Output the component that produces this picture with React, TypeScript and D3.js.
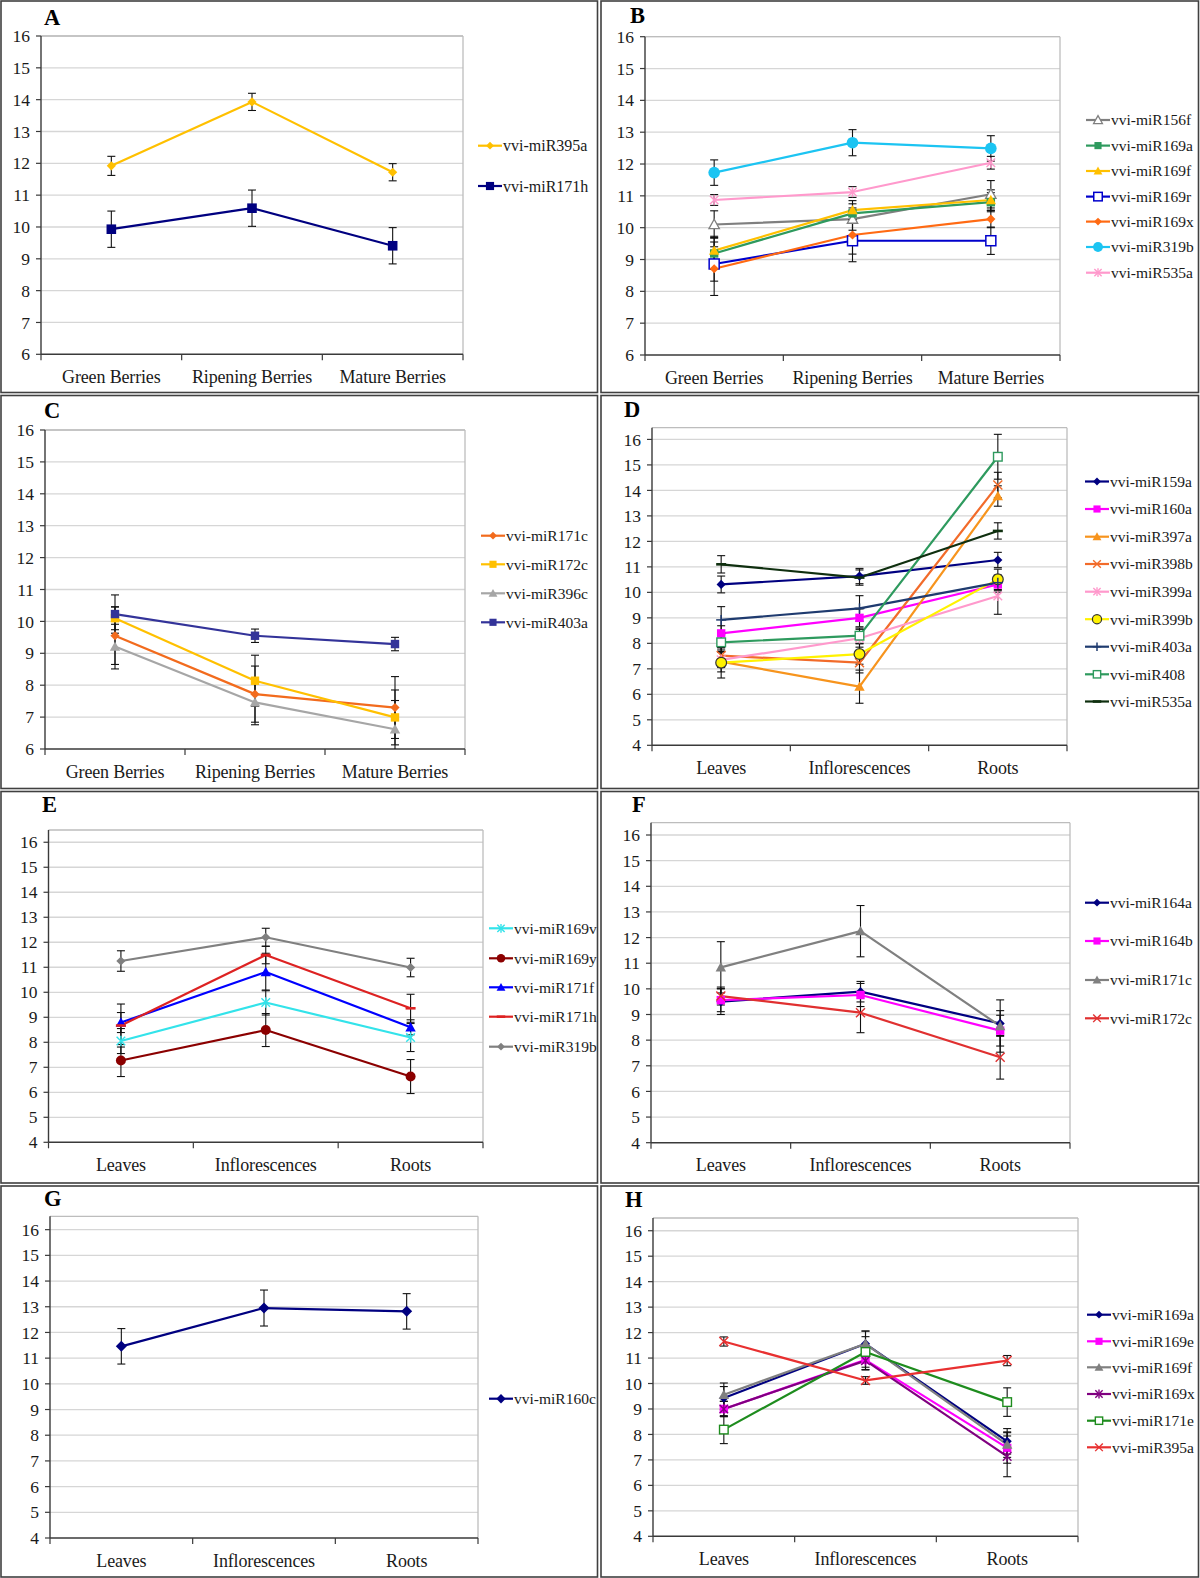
import React from "react";
import * as d3 from "d3";

// ---------- categories & ticks ----------
const berryStages = ["Green Berries", "Ripening Berries", "Mature Berries"];
const tissues = ["Leaves", "Inflorescences", "Roots"];
const berryTicks = [6, 7, 8, 9, 10, 11, 12, 13, 14, 15, 16];
const tissueTicks = [4, 5, 6, 7, 8, 9, 10, 11, 12, 13, 14, 15, 16];

// ---------- Panel A ----------
const aNames = ["vvi-miR395a", "vvi-miR171h"];
const aMeans = [[11.92, 13.93, 11.72], [9.93, 10.59, 9.41]];
const aErrors = [[0.3, 0.27, 0.27], [0.57, 0.57, 0.57]];
const aColors = ["#FFC000", "#000080"];
const aMarkers = ["diamond", "bigSquare"];

// ---------- Panel B ----------
const bNames = ["vvi-miR156f", "vvi-miR169a", "vvi-miR169f", "vvi-miR169r", "vvi-miR169x", "vvi-miR319b", "vvi-miR535a"];
const bMeans = [
  [10.1, 10.27, 11.05],
  [9.19, 10.45, 10.8],
  [9.28, 10.55, 10.87],
  [8.86, 9.59, 9.59],
  [8.71, 9.77, 10.27],
  [11.73, 12.67, 12.49],
  [10.87, 11.12, 12.04],
];
const bErrors = [
  [0.43, 0.35, 0.43],
  [0.5, 0.3, 0.3],
  [0.45, 0.3, 0.32],
  [0.54, 0.66, 0.43],
  [0.84, 0.6, 0.27],
  [0.4, 0.41, 0.4],
  [0.17, 0.17, 0.2],
];
const bColors = ["#7F7F7F", "#2E9A5E", "#FFC000", "#0000CC", "#FF6A13", "#1CC4F2", "#FF99CC"];
const bMarkers = ["openTriangle", "square", "triangle", "openSquareBig", "diamond", "circleBig", "star"];

// ---------- Panel C ----------
const cNames = ["vvi-miR171c", "vvi-miR172c", "vvi-miR396c", "vvi-miR403a"];
const cMeans = [
  [9.55, 7.72, 7.3],
  [10.1, 8.14, 6.99],
  [9.21, 7.46, 6.62],
  [10.23, 9.55, 9.29],
];
const cErrors = [
  [0.9, 0.88, 0.97],
  [0.36, 0.8, 0.86],
  [0.7, 0.7, 0.9],
  [0.6, 0.21, 0.21],
];
const cColors = ["#F26B1D", "#FFC000", "#A6A6A6", "#333399"];
const cMarkers = ["diamond", "square", "triangle", "square"];

// ---------- Panel D ----------
const dNames = ["vvi-miR159a", "vvi-miR160a", "vvi-miR397a", "vvi-miR398b", "vvi-miR399a", "vvi-miR399b", "vvi-miR403a", "vvi-miR408", "vvi-miR535a"];
const dMeans = [
  [10.31, 10.64, 11.27],
  [8.39, 9.0, 10.31],
  [7.28, 6.3, 13.78],
  [7.52, 7.24, 14.21],
  [7.35, 8.2, 9.86],
  [7.24, 7.58, 10.51],
  [8.92, 9.37, 10.38],
  [8.04, 8.3, 15.32],
  [11.1, 10.58, 12.41],
];
const dErrors = [
  [0.33, 0.3, 0.3],
  [0.3, 0.35, 0.3],
  [0.4, 0.65, 0.4],
  [0.3, 0.4, 0.5],
  [0.3, 0.35, 0.72],
  [0.6, 0.4, 0.4],
  [0.52, 0.5, 0.3],
  [0.3, 0.3, 0.88],
  [0.34, 0.3, 0.32],
];
const dColors = ["#000080", "#FF00FF", "#F7941D", "#F26B2A", "#FF99CC", "#FFF200", "#1F3B6F", "#2E9A5E", "#0F2F0F"];
const dMarkers = ["diamond", "square", "triangle", "x", "star", "circleOutline", "plus", "openSquare", "dash"];

// ---------- Panel E ----------
const eNames = ["vvi-miR169v", "vvi-miR169y", "vvi-miR171f", "vvi-miR171h", "vvi-miR319b"];
const eMeans = [
  [8.05, 9.59, 8.19],
  [7.27, 8.49, 6.63],
  [8.79, 10.81, 8.6],
  [8.67, 11.49, 9.36],
  [11.25, 12.2, 10.99],
];
const eErrors = [
  [0.5, 0.5, 0.56],
  [0.64, 0.66, 0.68],
  [0.4, 0.75, 0.3],
  [0.86, 0.35, 0.56],
  [0.41, 0.36, 0.37],
];
const eColors = ["#33E3EA", "#8B0000", "#0000FF", "#DD2222", "#808080"];
const eMarkers = ["star", "circle", "triangle", "dash", "diamond"];

// ---------- Panel F ----------
const fNames = ["vvi-miR164a", "vvi-miR164b", "vvi-miR171c", "vvi-miR172c"];
const fMeans = [
  [9.5, 9.89, 8.65],
  [9.56, 9.76, 8.37],
  [10.84, 12.25, 8.55],
  [9.72, 9.07, 7.33],
];
const fErrors = [
  [0.5, 0.4, 0.5],
  [0.45, 0.45, 0.6],
  [1.0, 1.0, 1.02],
  [0.35, 0.78, 0.85],
];
const fColors = ["#000080", "#FF00FF", "#808080", "#E03030"];
const fMarkers = ["diamond", "square", "triangle", "x"];

// ---------- Panel G ----------
const gNames = ["vvi-miR160c"];
const gMeans = [[11.46, 12.95, 12.82]];
const gErrors = [[0.69, 0.7, 0.69]];
const gColors = ["#000080"];
const gMarkers = ["diamondBig"];

// ---------- Panel H ----------
const hNames = ["vvi-miR169a", "vvi-miR169e", "vvi-miR169f", "vvi-miR169x", "vvi-miR171e", "vvi-miR395a"];
const hMeans = [
  [9.43, 11.56, 7.73],
  [9.0, 10.93, 7.47],
  [9.56, 11.56, 7.6],
  [9.0, 10.9, 7.14],
  [8.19, 11.24, 9.27],
  [11.65, 10.12, 10.9],
];
const hErrors = [
  [0.45, 0.5, 0.5],
  [0.3, 0.4, 0.6],
  [0.46, 0.5, 0.5],
  [0.3, 0.35, 0.8],
  [0.55, 0.6, 0.56],
  [0.18, 0.15, 0.2],
];
const hColors = ["#000080", "#FF00FF", "#808080", "#800080", "#1E8C1E", "#E83030"];
const hMarkers = ["diamond", "square", "triangle", "star", "openSquare", "x"];

// ---------- layout (positions, separate from data) ----------
type Layout = {
  letter: string; letterX: number; letterY: number;
  left: number; right: number; top: number; bottom: number;
  yMin: number; yMax: number;
  legendX: number; legendYs: number[]; legendFont: number;
};

const layouts: Layout[] = [
  { letter: "A", letterX: 44, letterY: 25, left: 41, right: 463, top: 36, bottom: 354.3, yMin: 6, yMax: 16, legendX: 478, legendYs: [145.7, 186], legendFont: 16 },
  { letter: "B", letterX: 630, letterY: 23, left: 645, right: 1060, top: 36.7, bottom: 355, yMin: 6, yMax: 16, legendX: 1086, legendYs: [120, 145.6, 171, 196.6, 221.6, 247, 272.7], legendFont: 15.5 },
  { letter: "C", letterX: 44, letterY: 418, left: 45, right: 465, top: 430, bottom: 749, yMin: 6, yMax: 16, legendX: 481, legendYs: [535.7, 564.3, 593.3, 622.3], legendFont: 15.5 },
  { letter: "D", letterX: 624, letterY: 417, left: 652, right: 1067, top: 427.7, bottom: 745.3, yMin: 4, yMax: 16.46, legendX: 1085, legendYs: [481.5, 509, 536.7, 564, 591.7, 619.2, 646.7, 674.3, 701.5], legendFont: 15.5 },
  { letter: "E", letterX: 42, letterY: 812, left: 48.5, right: 483, top: 830, bottom: 1142.3, yMin: 4, yMax: 16.49, legendX: 489, legendYs: [928.3, 958.3, 987.3, 1016.7, 1046.7], legendFont: 15.5 },
  { letter: "F", letterX: 632, letterY: 812, left: 651, right: 1070, top: 822.7, bottom: 1142.7, yMin: 4, yMax: 16.48, legendX: 1085, legendYs: [902.7, 941, 980, 1018.3], legendFont: 15.5 },
  { letter: "G", letterX: 44, letterY: 1206, left: 50, right: 478, top: 1216.3, bottom: 1538, yMin: 4, yMax: 16.52, legendX: 489, legendYs: [1398.7], legendFont: 15.5 },
  { letter: "H", letterX: 625, letterY: 1207, left: 653, right: 1078, top: 1218, bottom: 1536.3, yMin: 4, yMax: 16.5, legendX: 1087, legendYs: [1314.7, 1341.3, 1367.3, 1394, 1420.7, 1447.3], legendFont: 15.5 },
];

type Series = { names: string[]; means: number[][]; errors: number[][]; colors: string[]; markers: string[]; categories: string[]; ticks: number[] };

const panelSeries: Series[] = [
  { names: aNames, means: aMeans, errors: aErrors, colors: aColors, markers: aMarkers, categories: berryStages, ticks: berryTicks },
  { names: bNames, means: bMeans, errors: bErrors, colors: bColors, markers: bMarkers, categories: berryStages, ticks: berryTicks },
  { names: cNames, means: cMeans, errors: cErrors, colors: cColors, markers: cMarkers, categories: berryStages, ticks: berryTicks },
  { names: dNames, means: dMeans, errors: dErrors, colors: dColors, markers: dMarkers, categories: tissues, ticks: tissueTicks },
  { names: eNames, means: eMeans, errors: eErrors, colors: eColors, markers: eMarkers, categories: tissues, ticks: tissueTicks },
  { names: fNames, means: fMeans, errors: fErrors, colors: fColors, markers: fMarkers, categories: tissues, ticks: tissueTicks },
  { names: gNames, means: gMeans, errors: gErrors, colors: gColors, markers: gMarkers, categories: tissues, ticks: tissueTicks },
  { names: hNames, means: hMeans, errors: hErrors, colors: hColors, markers: hMarkers, categories: tissues, ticks: tissueTicks },
];

// cell borders (table-like frame)
const cellXs = [[1, 597.5], [601, 1198.5]];
const cellYs = [[1, 392.5], [395.5, 788.5], [791.5, 1183], [1186, 1577]];

const FONT = "Liberation Serif, Times New Roman, Times, serif";

function Marker({ kind, x, y, color, s = 1 }: { kind: string; x: number; y: number; color: string; s?: number }) {
  switch (kind) {
    case "square": {
      const h = 4.2 * s;
      return <rect x={x - h} y={y - h} width={2 * h} height={2 * h} fill={color} />;
    }
    case "bigSquare": {
      const h = 4.8 * s;
      return <rect x={x - h} y={y - h} width={2 * h} height={2 * h} fill={color} />;
    }
    case "openSquare": {
      const h = 4.3 * s;
      return <rect x={x - h} y={y - h} width={2 * h} height={2 * h} fill="#fff" stroke={color} strokeWidth={1.4} />;
    }
    case "openSquareBig": {
      const h = 5 * s;
      return <rect x={x - h} y={y - h} width={2 * h} height={2 * h} fill="#fff" stroke={color} strokeWidth={1.5} />;
    }
    case "diamond":
    case "diamondBig": {
      const h = (kind === "diamondBig" ? 5.5 : 4.6) * s;
      return <path d={`M${x},${y - h}L${x + h},${y}L${x},${y + h}L${x - h},${y}Z`} fill={color} />;
    }
    case "triangle": {
      const h = 5.2 * s;
      return <path d={`M${x},${y - h}L${x + h},${y + h * 0.8}L${x - h},${y + h * 0.8}Z`} fill={color} />;
    }
    case "openTriangle": {
      const h = 5.2 * s;
      return <path d={`M${x},${y - h}L${x + h},${y + h * 0.8}L${x - h},${y + h * 0.8}Z`} fill="#fff" stroke={color} strokeWidth={1.3} />;
    }
    case "circle":
      return <circle cx={x} cy={y} r={5 * s} fill={color} />;
    case "circleBig":
      return <circle cx={x} cy={y} r={5.8 * s} fill={color} />;
    case "circleOutline":
      return <circle cx={x} cy={y} r={5.4 * s} fill={color} stroke="#333" strokeWidth={1.2} />;
    case "x": {
      const h = 4.5 * s;
      return (
        <g stroke={color} strokeWidth={1.4}>
          <line x1={x - h} y1={y - h} x2={x + h} y2={y + h} />
          <line x1={x - h} y1={y + h} x2={x + h} y2={y - h} />
        </g>
      );
    }
    case "star": {
      const h = 4.3 * s;
      return (
        <g stroke={color} strokeWidth={1.4}>
          <line x1={x - h} y1={y - h} x2={x + h} y2={y + h} />
          <line x1={x - h} y1={y + h} x2={x + h} y2={y - h} />
          <line x1={x} y1={y - h * 1.2} x2={x} y2={y + h * 1.2} />
        </g>
      );
    }
    case "plus": {
      const h = 5 * s;
      return (
        <g stroke={color} strokeWidth={1.5}>
          <line x1={x - h} y1={y} x2={x + h} y2={y} />
          <line x1={x} y1={y - h} x2={x} y2={y + h} />
        </g>
      );
    }
    case "dash": {
      const h = 5 * s;
      return <line x1={x - h} y1={y} x2={x + h} y2={y} stroke={color} strokeWidth={2.6} />;
    }
    default:
      return null;
  }
}

function Panel({ L, S }: { L: Layout; S: Series }) {
  const y = d3.scaleLinear().domain([L.yMin, L.yMax]).range([L.bottom, L.top]);
  const x = d3.scaleBand<string>().domain(S.categories).range([L.left, L.right]).paddingInner(0).paddingOuter(0);
  const bw = x.bandwidth();
  const cx = (c: string) => (x(c) as number) + bw / 2;
  const line = d3.line<[number, number]>().x((d) => d[0]).y((d) => d[1]);
  const bandEdges = d3.range(S.categories.length + 1).map((i) => L.left + i * bw);
  const cap = 4;

  return (
    <g>
      {/* gridlines */}
      {S.ticks.filter((t) => t > L.yMin).map((t) => (
        <line key={"g" + t} x1={L.left} x2={L.right} y1={y(t)} y2={y(t)} stroke="#D6D6D6" strokeWidth={1.3} />
      ))}
      {/* plot frame (top/right) */}
      <line x1={L.left} x2={L.right} y1={L.top} y2={L.top} stroke="#BDBDBD" strokeWidth={1.3} />
      <line x1={L.right} x2={L.right} y1={L.top} y2={L.bottom} stroke="#BDBDBD" strokeWidth={1.3} />
      {/* y axis */}
      <line x1={L.left} x2={L.left} y1={L.top} y2={L.bottom} stroke="#3A3A3A" strokeWidth={1.4} />
      {S.ticks.map((t) => (
        <g key={"t" + t}>
          <line x1={L.left - 5} x2={L.left} y1={y(t)} y2={y(t)} stroke="#3A3A3A" strokeWidth={1.2} />
          <text x={L.left - 11} y={y(t)} dy="0.35em" textAnchor="end" fontFamily={FONT} fontSize={17.5} fill="#1a1a1a">
            {t}
          </text>
        </g>
      ))}
      {/* x axis */}
      <line x1={L.left} x2={L.right} y1={L.bottom} y2={L.bottom} stroke="#3A3A3A" strokeWidth={1.4} />
      {bandEdges.map((e, i) => (
        <line key={"xe" + i} x1={e} x2={e} y1={L.bottom} y2={L.bottom + 6} stroke="#3A3A3A" strokeWidth={1.2} />
      ))}
      {S.categories.map((c) => (
        <text key={c} x={cx(c)} y={L.bottom + 28.5} textAnchor="middle" fontFamily={FONT} fontSize={18} fill="#1a1a1a" letterSpacing={-0.15}>
          {c}
        </text>
      ))}
      {/* series lines */}
      {S.names.map((name, si) => {
        const pts: [number, number][] = S.categories.map((c, ci) => [cx(c), y(S.means[si][ci])]);
        return (
          <path key={name} d={line(pts) || ""} fill="none" stroke={S.colors[si]} strokeWidth={2.2} strokeLinejoin="round" />
        );
      })}
      {/* error bars */}
      {S.names.map((name, si) => (
        <g key={"e" + name} stroke="#111" strokeWidth={1.1}>
          {S.categories.map((c, ci) => {
            const m = S.means[si][ci];
            const e = S.errors[si][ci];
            const hi = Math.min(m + e, L.yMax);
            const lo = Math.max(m - e, L.yMin);
            const px = cx(c);
            return (
              <g key={ci}>
                <line x1={px} x2={px} y1={y(hi)} y2={y(lo)} />
                {m + e <= L.yMax && <line x1={px - cap} x2={px + cap} y1={y(hi)} y2={y(hi)} />}
                {m - e >= L.yMin && <line x1={px - cap} x2={px + cap} y1={y(lo)} y2={y(lo)} />}
              </g>
            );
          })}
        </g>
      ))}
      {/* markers */}
      {S.names.map((name, si) => (
        <g key={"m" + name}>
          {S.categories.map((c, ci) => (
            <Marker key={ci} kind={S.markers[si]} x={cx(c)} y={y(S.means[si][ci])} color={S.colors[si]} />
          ))}
        </g>
      ))}
      {/* legend */}
      {S.names.map((name, si) => {
        const ly = L.legendYs[si];
        return (
          <g key={"l" + name}>
            <line x1={L.legendX} x2={L.legendX + 24} y1={ly} y2={ly} stroke={S.colors[si]} strokeWidth={2.2} />
            <Marker kind={S.markers[si]} x={L.legendX + 12} y={ly} color={S.colors[si]} s={0.85} />
            <text x={L.legendX + 25} y={ly} dy="0.35em" fontFamily={FONT} fontSize={L.legendFont} fill="#1a1a1a">
              {name}
            </text>
          </g>
        );
      })}
      {/* panel letter */}
      <text x={L.letterX} y={L.letterY} fontFamily={FONT} fontWeight="bold" fontSize={22.5} fill="#000">
        {L.letter}
      </text>
    </g>
  );
}

export default function App() {
  return (
    <svg
      width={1200}
      height={1578}
      viewBox="0 0 1200 1578"
      style={{ position: "absolute", left: 0, top: 0, display: "block", background: "#fff" }}
    >
      <rect x={0} y={0} width={1200} height={1578} fill="#fff" />
      {cellYs.map((ry, ri) =>
        cellXs.map((rx, ci) => (
          <rect
            key={`c${ri}-${ci}`}
            x={rx[0]}
            y={ry[0]}
            width={rx[1] - rx[0]}
            height={ry[1] - ry[0]}
            fill="none"
            stroke="#404040"
            strokeWidth={1.6}
          />
        ))
      )}
      {layouts.map((L, i) => (
        <Panel key={L.letter} L={L} S={panelSeries[i]} />
      ))}
    </svg>
  );
}
